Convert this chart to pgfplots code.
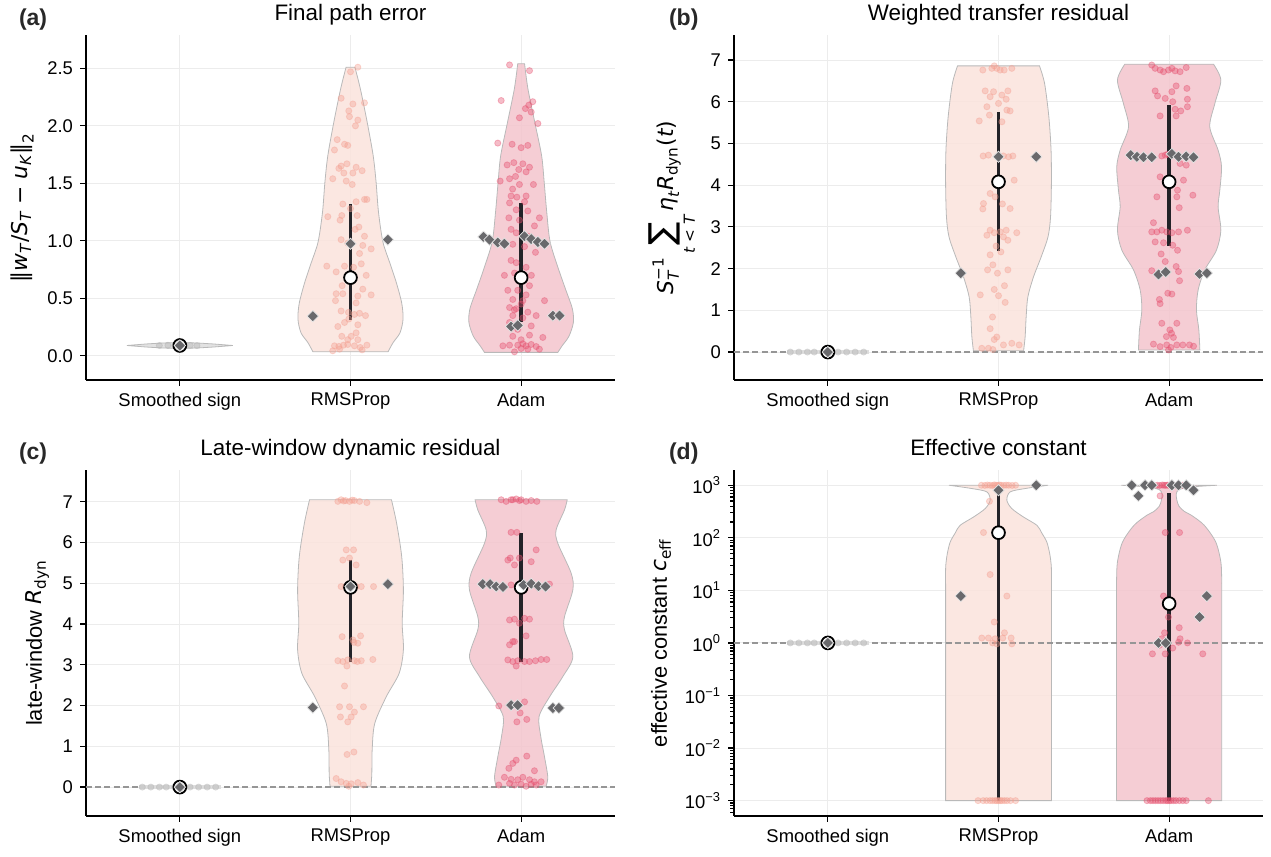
\documentclass[border=0pt]{standalone}
\usepackage{amsmath}
\usepackage{fontspec}
\setmainfont{Liberation Sans}
\newfontfamily\dv{DejaVu Sans}
\usepackage{pgfplots}
\pgfplotsset{compat=1.18}
\usepgfplotslibrary{fillbetween}
\usepackage{pgfplotstable}

\definecolor{rmsfill}{RGB}{250,227,221}
\definecolor{adamfill}{RGB}{244,197,206}
\definecolor{rmsdot}{RGB}{245,160,145}
\definecolor{adamdot}{RGB}{230,80,110}
\definecolor{vedge}{RGB}{185,185,185}
\definecolor{gridc}{RGB}{236,236,236}
\definecolor{dia}{RGB}{105,105,108}
\definecolor{iqr}{RGB}{35,35,40}
\definecolor{sgfill}{RGB}{222,222,222}
\definecolor{sgdot}{RGB}{175,175,175}
\definecolor{zc}{RGB}{150,150,150}

\newcommand\mi[1]{\text{\dv\itshape #1}}
\newcommand\mr[1]{\text{\dv #1}}

\pgfplotsset{
 every axis title/.style={at={(0.5,1)}, anchor=base, yshift=7.2bp, font=\fontsize{11.2bp}{13bp}\selectfont},
 panel/.style={
  scale only axis, width=264.5bp, height=172.5bp,
  axis lines=left, axis line style={-, line width=1bp, black},
  xmin=-0.55, xmax=2.55, xtick={0,1,2}, xticklabels={Smoothed sign,RMSProp,Adam},
  tick align=outside, major tick length=3bp, minor tick length=1.8bp,
  tick style={black, line width=0.6bp},
  grid=major, major grid style={gridc, line width=0.5bp},
  ticklabel style={font=\fontsize{9.2bp}{10bp}\selectfont},
  /pgf/number format/assume math mode=true,
  label style={font=\fontsize{10.9bp}{13bp}\selectfont},
  anchor=south west,
 },
 pts/.style={only marks, mark=*, mark size=1.55bp, mark options={draw=#1, fill=#1, opacity=0.38}},
 dias/.style={only marks, mark=square*, mark size=2bp, mark options={rotate=45, fill=dia, draw={rgb,255:red,230;green,230;blue,230}, line width=0.35bp}},
 med/.style={only marks, mark=*, mark size=3.2bp, mark options={fill=white, draw=black, line width=0.9bp}},
 iqrl/.style={iqr, line width=1.7bp},
 zline/.style={zc, dash pattern=on 3bp off 1.6bp, line width=0.7bp},
 vfill/.style={fill=#1, fill opacity=0.87, draw=vedge, line width=0.4bp},
}

% ---------- violin outlines (y, half width) ----------
\pgfplotstableread{
y h
0.035 0.22
0.116 0.25
0.20 0.29
0.32 0.308
0.46 0.30
0.64 0.268
0.81 0.23
0.99 0.19
1.25 0.164
1.51 0.15
1.74 0.133
2.03 0.098
2.32 0.058
2.51 0.026
}\vaR
\pgfplotstableread{
y h
0.03 0.215
0.087 0.24
0.17 0.28
0.29 0.306
0.41 0.30
0.58 0.26
0.75 0.22
0.99 0.17
1.25 0.15
1.51 0.135
1.74 0.12
2.03 0.08
2.32 0.04
2.54 0.02
}\vaA
\pgfplotstableread{
y h
0.03 0.147
0.36 0.156
0.84 0.162
1.32 0.172
1.80 0.205
2.28 0.25
2.76 0.29
3.24 0.305
4.04 0.31
4.84 0.308
5.64 0.295
6.44 0.27
6.86 0.24
}\vbR
\pgfplotstableread{
y h
0.05 0.18
0.53 0.174
1.01 0.16
1.49 0.17
1.97 0.209
2.44 0.277
2.92 0.303
3.48 0.287
3.88 0.297
4.44 0.307
4.84 0.287
5.40 0.238
5.96 0.268
6.52 0.303
6.90 0.26
}\vbA
\pgfplotstableread{
y h
0.02 0.12
0.34 0.125
0.91 0.127
1.56 0.142
2.22 0.21
2.79 0.285
3.37 0.31
4.02 0.303
4.84 0.31
5.66 0.30
6.48 0.27
7.05 0.24
}\vcR
\pgfplotstableread{
y h
0.02 0.146
0.25 0.156
0.74 0.137
1.24 0.115
1.73 0.105
2.21 0.166
2.71 0.244
3.20 0.303
3.86 0.254
4.18 0.254
4.84 0.303
5.25 0.293
5.98 0.215
6.31 0.205
6.80 0.254
7.05 0.27
}\vcA
\pgfplotstableread{
y h
0.001 0.31
0.01 0.31
0.1 0.31
1 0.31
10 0.31
25.1 0.31
34.7 0.307
50.1 0.30
83.2 0.283
126 0.252
173 0.225
249 0.146
360 0.078
518 0.049
746 0.068
865 0.156
1000 0.29
}\vdR
\pgfplotstableread{
y h
0.001 0.308
0.01 0.308
0.1 0.308
1 0.308
10 0.308
15.8 0.308
34.7 0.303
83.2 0.273
174 0.205
269 0.13
316 0.09
398 0.058
525 0.045
692 0.042
832 0.06
933 0.14
1000 0.28
}\vdA

\begin{document}
\begin{tikzpicture}

% ================= (a) =================
\begin{axis}[panel, at={(43bp,238.5bp)},
  ymin=-0.21, ymax=2.79, ytick={0,0.5,1,1.5,2,2.5},
  yticklabel style={/pgf/number format/.cd, fixed, fixed zerofill, precision=1},
  title={Final path error},
  ylabel={$\mr{‖}\mi{w}_{\mi{T}}\mr{/}\mi{S}_{\mi{T}}\mr{ − }\mi{u}_{\mi{K}}\mr{‖}_{\mr{2}}$}]
\addplot[vfill=sgfill] coordinates {(-0.31,0.09) (-0.2,0.077) (-0.1,0.068) (0,0.065) (0.1,0.068) (0.2,0.077) (0.31,0.09) (0.2,0.103) (0.1,0.112) (0,0.115) (-0.1,0.112) (-0.2,0.103)} -- cycle;
\addplot[pts=sgdot] coordinates {(-0.12,0.09) (-0.07,0.092) (-0.03,0.088) (0.02,0.09) (0.06,0.091) (0.1,0.089)};
\addplot[draw=none, smooth, name path=aR] table[x expr=1+\thisrow{h}, y=y] {\vaR};
\addplot[draw=none, smooth, name path=aL] table[x expr=1-\thisrow{h}, y=y] {\vaR};
\addplot[vfill=rmsfill] fill between[of=aR and aL, reverse=true];
\addplot[draw=none, smooth, name path=bR] table[x expr=2+\thisrow{h}, y=y] {\vaA};
\addplot[draw=none, smooth, name path=bL] table[x expr=2-\thisrow{h}, y=y] {\vaA};
\addplot[vfill=adamfill] fill between[of=bR and bL, reverse=true];
\addplot[pts=rmsdot] coordinates {
(1.043,2.51) (1.0,2.47) (0.945,2.24) (1.014,2.19) (1.082,2.20) (0.99,2.13) (0.994,2.08) (1.043,2.05) (1.029,2.00)
(0.922,1.88) (0.965,1.84) (0.984,1.83) (0.906,1.79) (0.945,1.65) (0.979,1.67) (0.932,1.63) (0.961,1.59) (1.014,1.59)
(1.033,1.64) (1.068,1.61) (0.896,1.54) (0.975,1.52) (1.01,1.49) (1.082,1.36) (1.096,1.36) (1.033,1.34) (0.955,1.32)
(1.0,1.28) (1.039,1.22) (0.867,1.21) (0.949,1.22) (0.939,1.18) (1.049,1.12) (1.027,1.10) (1.082,1.04) (0.945,1.01)
(0.984,0.98) (1.072,0.96) (1.121,0.93) (1.053,0.89) (0.861,0.78) (0.965,0.78) (1.018,0.77) (1.063,0.80) (0.916,0.73)
(1.092,0.70) (0.951,0.61) (1.072,0.58) (0.916,0.54) (0.955,0.54) (1.043,0.52) (1.121,0.53) (0.912,0.48) (1.033,0.46)
(0.945,0.39) (0.988,0.378) (1.023,0.36) (1.053,0.37) (1.088,0.35) (0.99,0.32) (0.926,0.255) (0.965,0.29) (1.043,0.27)
(0.949,0.17) (1.004,0.17) (1.033,0.20) (0.984,0.14) (1.043,0.14) (0.906,0.087) (0.932,0.082) (0.959,0.093) (0.984,0.099)
(1.023,0.087) (1.057,0.073) (1.096,0.093) (0.896,0.044) (1.068,0.052) (0.936,0.058)};
\addplot[pts=adamdot] coordinates {
(1.932,2.53) (2.049,2.48) (1.883,2.22) (2.068,2.21) (2.045,2.18) (2.025,2.15) (2.059,2.12) (1.99,2.07) (2.098,2.02)
(1.863,1.85) (1.947,1.84) (2.0,1.81) (2.039,1.83) (1.918,1.66) (1.957,1.68) (2.01,1.67) (2.049,1.64) (1.986,1.62)
(2.029,1.60) (1.967,1.56) (1.877,1.52) (1.932,1.54) (1.99,1.49) (2.072,1.49) (1.941,1.39) (1.975,1.38) (2.029,1.39)
(1.932,1.33) (2.02,1.34) (1.971,1.27) (2.039,1.26) (2.107,1.20) (1.928,1.20) (1.99,1.18) (2.078,1.13) (1.941,1.10)
(1.971,1.07) (2.039,1.04) (1.951,0.97) (2.02,0.95) (2.084,0.90) (1.941,0.83) (1.971,0.81) (2.029,0.77) (1.902,0.70)
(1.961,0.72) (2.049,0.61) (1.922,0.57) (1.98,0.57) (2.029,0.53) (1.951,0.49) (2.01,0.48) (2.137,0.48) (1.932,0.42)
(1.971,0.41) (2.039,0.38) (2.088,0.35) (1.951,0.35) (2.01,0.33) (1.932,0.29) (2.059,0.26) (1.98,0.23) (2.049,0.18)
(1.951,0.17) (2.127,0.16) (2.0,0.14) (1.893,0.087) (1.932,0.093) (1.98,0.093) (2.01,0.105) (2.029,0.087) (2.059,0.099)
(2.088,0.081) (2.0,0.064) (1.961,0.035) (2.107,0.058) (2.039,0.058) (1.96,0.40) (2.0,0.45) (2.06,0.70) (1.95,1.45)};
\addplot[iqrl] coordinates {(1,1.32) (1,0.315)};
\addplot[iqrl] coordinates {(2,1.33) (2,0.29)};
\addplot[med] coordinates {(0,0.09) (1,0.68) (2,0.68)};
\addplot[dias] coordinates {(0,0.09) (1.0,0.975) (1.219,1.01) (0.779,0.345)
 (1.779,1.035) (1.814,1.01) (1.863,0.985) (1.902,0.975) (2.02,1.04) (2.059,1.015) (2.098,0.99) (2.137,0.975)
 (1.941,0.255) (1.98,0.265) (2.186,0.35) (2.225,0.35)};
\end{axis}

% ================= (b) =================
\begin{axis}[panel, at={(367bp,238.5bp)},
  ymin=-0.67, ymax=7.6, ytick={0,1,2,3,4,5,6,7},
  title={Weighted transfer residual},
  ylabel={$\mi{S}_{\mi{T}}^{\mr{−1}}\mathop{\text{\dv\LARGE ∑}}\limits_{\mi{t}\mr{ < }\mi{T}}\mi{η}_{\mi{t}}\mi{R}_{\mr{dyn}}\mr{(}\mi{t}\mr{)}$}]
\addplot[zline] coordinates {(-0.55,0) (2.55,0)};
\addplot[fill=sgfill, draw=none] coordinates {(-0.24,-0.05) (0.24,-0.05) (0.24,0.05) (-0.24,0.05)} -- cycle;
\addplot[pts=sgdot] coordinates {(-0.22,0) (-0.17,0) (-0.12,0) (-0.08,0) (-0.03,0) (0.02,0) (0.06,0) (0.11,0) (0.16,0) (0.21,0)};
\addplot[draw=none, smooth, name path=cR] table[x expr=1+\thisrow{h}, y=y] {\vbR};
\addplot[draw=none, smooth, name path=cL] table[x expr=1-\thisrow{h}, y=y] {\vbR};
\addplot[vfill=rmsfill] fill between[of=cR and cL, reverse=true];
\addplot[draw=none, smooth, name path=dR] table[x expr=2+\thisrow{h}, y=y] {\vbA};
\addplot[draw=none, smooth, name path=dL] table[x expr=2-\thisrow{h}, y=y] {\vbA};
\addplot[vfill=adamfill] fill between[of=dR and dL, reverse=true];
\addplot[pts=rmsdot] coordinates {
(0.908,6.76) (0.961,6.8) (0.975,6.86) (0.99,6.8) (1.01,6.76) (1.033,6.76) (1.078,6.8) (0.922,6.26) (0.971,6.24)
(1.055,6.26) (0.951,6.12) (1.02,6.16) (1.045,6.06) (1.0,5.96) (0.932,5.88) (1.049,5.80) (1.068,5.78) (0.947,5.68)
(0.887,5.54) (1.02,5.52) (0.91,4.70) (0.941,4.72) (1.029,4.70) (1.059,4.68) (1.084,4.70) (1.092,4.12) (0.951,3.80)
(0.98,3.72) (0.912,3.56) (1.023,3.55) (0.908,3.43) (1.068,3.44) (0.951,2.92) (0.975,2.86) (1.01,2.88) (1.045,2.92)
(1.107,2.86) (0.932,2.80) (1.029,2.76) (1.055,2.68) (0.986,2.54) (1.014,2.40) (0.951,2.33) (0.967,2.09) (0.936,1.97)
(0.994,1.89) (1.055,1.97) (1.035,1.59) (0.975,1.50) (0.893,1.37) (1.0,1.35) (1.039,1.19) (0.965,0.84) (0.951,0.56)
(0.99,0.36) (0.975,0.30) (1.029,0.17) (1.121,0.17) (0.902,0.09) (0.941,0.09) (0.967,0.06) (1.078,0.21)};
\addplot[pts=adamdot] coordinates {
(1.898,6.88) (1.918,6.80) (1.947,6.76) (1.967,6.72) (1.996,6.76) (2.016,6.80) (2.035,6.74) (2.064,6.72) (2.1,6.82)
(1.918,6.26) (1.932,6.14) (2.016,6.24) (2.041,6.38) (2.104,6.32) (1.977,6.08) (2.021,6.00) (2.107,6.06) (2.068,5.78)
(2.107,5.88) (1.947,5.66) (2.041,5.66) (2.035,5.82) (1.957,4.70) (1.977,4.72) (1.99,4.74) (2.064,4.52) (2.1,4.48) (1.947,4.20)
(2.084,4.12) (1.928,3.72) (2.049,3.88) (2.045,3.72) (2.139,3.76) (2.059,3.46) (1.908,3.10) (1.898,2.88) (1.928,2.88)
(1.957,2.92) (1.986,2.88) (2.016,2.86) (2.055,2.88) (2.107,2.92) (1.918,2.64) (1.967,2.62) (2.021,2.56) (2.049,2.44)
(1.953,2.35) (1.977,2.17) (2.041,2.05) (2.055,1.93) (1.898,1.95) (2.061,1.71) (1.992,1.41) (2.016,1.39) (1.943,1.26)
(1.947,1.16) (1.957,0.69) (2.045,0.69) (2.004,0.53) (2.014,0.45) (1.984,0.37) (2.025,0.35) (1.908,0.19) (1.947,0.13)
(1.986,0.17) (2.01,0.11) (2.045,0.17) (2.08,0.17) (2.119,0.17) (2.143,0.14) (1.996,0.05)};
\addplot[iqrl] coordinates {(1,5.76) (1,2.42)};
\addplot[iqrl] coordinates {(2,5.92) (2,2.53)};
\addplot[med] coordinates {(0,0) (1,4.08) (2,4.08)};
\addplot[dias] coordinates {(0,0) (1.0,4.68) (1.221,4.68) (0.779,1.89)
 (1.775,4.72) (1.811,4.68) (1.85,4.67) (1.898,4.67) (2.016,4.75) (2.055,4.68) (2.1,4.69) (2.143,4.67)
 (1.938,1.86) (1.98,1.92) (2.178,1.87) (2.221,1.89)};
\end{axis}

% ================= (c) =================
\begin{axis}[panel, at={(43bp,20.5bp)}, height=173bp,
  ymin=-0.71, ymax=7.78, ytick={0,1,2,3,4,5,6,7},
  title={Late-window dynamic residual},
  ylabel={late-window $\mi{R}_{\mr{dyn}}$}]
\addplot[zline] coordinates {(-0.55,0) (2.55,0)};
\addplot[fill=sgfill, draw=none] coordinates {(-0.24,-0.05) (0.24,-0.05) (0.24,0.05) (-0.24,0.05)} -- cycle;
\addplot[pts=sgdot] coordinates {(-0.22,0) (-0.17,0) (-0.12,0) (-0.08,0) (-0.03,0) (0.02,0) (0.06,0) (0.11,0) (0.16,0) (0.21,0)};
\addplot[draw=none, smooth, name path=eR] table[x expr=1+\thisrow{h}, y=y] {\vcR};
\addplot[draw=none, smooth, name path=eL] table[x expr=1-\thisrow{h}, y=y] {\vcR};
\addplot[vfill=rmsfill] fill between[of=eR and eL, reverse=true];
\addplot[draw=none, smooth, name path=fR] table[x expr=2+\thisrow{h}, y=y] {\vcA};
\addplot[draw=none, smooth, name path=fL] table[x expr=2-\thisrow{h}, y=y] {\vcA};
\addplot[vfill=adamfill] fill between[of=fR and fL, reverse=true];
\addplot[pts=rmsdot] coordinates {
(0.926,7.01) (0.945,7.05) (0.96,7.02) (0.971,7.03) (0.994,7.01) (1.01,7.04) (1.023,7.03) (1.053,7.01) (1.096,6.98)
(0.975,5.82) (1.018,5.82) (0.955,5.57) (0.994,5.62) (1.033,5.45) (0.945,4.92) (0.971,4.92) (1.033,4.92) (1.063,4.92)
(1.135,4.92) (0.951,3.69) (1.059,3.71) (1.014,3.61) (1.043,3.53) (1.02,3.55) (0.926,3.10) (0.955,3.08) (0.984,3.12)
(1.023,3.10) (1.063,3.10) (1.131,3.13) (0.979,2.97) (1.04,3.08) (0.965,2.48) (0.936,1.97) (0.994,1.97) (1.023,1.84) (1.076,1.97)
(0.941,1.72) (1.004,1.72) (0.984,1.60) (0.98,0.8) (1.02,0.86) (0.916,0.21) (0.945,0.13) (0.975,0.09) (1.004,0.08)
(1.043,0.11) (1.076,0.05) (0.99,0.02)};
\addplot[pts=adamdot] coordinates {
(1.883,7.05) (1.912,7.01) (1.941,7.05) (1.951,7.05) (1.971,7.07) (2.0,7.05) (2.029,7.01) (2.059,7.03) (2.092,7.01) (1.99,7.03)
(1.941,6.25) (1.975,6.25) (2.088,5.82) (1.922,5.57) (1.936,5.62) (1.99,5.62) (2.059,5.53) (1.961,5.45) (1.941,4.96)
(2.029,4.96) (2.166,4.98) (1.932,4.10) (1.961,4.12) (2.02,4.14) (2.049,4.12) (1.99,4.02) (2.029,3.71) (1.951,3.57)
(1.932,3.49) (1.961,3.57) (1.922,3.12) (1.951,3.08) (1.98,3.10) (2.02,3.08) (2.049,3.08) (2.084,3.10) (2.117,3.13)
(2.15,3.13) (1.971,2.97) (1.869,1.99) (2.02,2.09) (1.994,1.82) (2.033,1.66) (1.975,1.60) (2.033,0.76) (1.971,0.66)
(1.951,0.58) (1.928,0.46) (2.078,0.40) (1.902,0.24) (1.941,0.19) (1.98,0.18) (2.01,0.24) (2.049,0.18) (2.078,0.13)
(2.117,0.13) (1.869,0.05) (1.932,0.09) (1.961,0.05) (2.0,0.07) (2.029,0.02) (2.059,0.07) (2.088,0.05)};
\addplot[iqrl] coordinates {(1,5.57) (1,3.08)};
\addplot[iqrl] coordinates {(2,6.23) (2,3.08)};
\addplot[med] coordinates {(0,0) (1,4.9) (2,4.9)};
\addplot[dias] coordinates {(0,0) (1.0,4.92) (1.219,4.98) (0.779,1.95)
 (1.775,4.98) (1.818,4.98) (1.854,4.92) (1.893,4.91) (2.014,4.96) (2.059,4.99) (2.102,4.93) (2.143,4.92)
 (1.941,2.01) (1.98,2.01) (2.186,1.94) (2.221,1.94)};
\end{axis}

% ================= (d) =================
\begin{axis}[panel, at={(367bp,20.5bp)}, height=173bp,
  ymode=log, ymin=5.1e-4, ymax=1950,
  ytick={1e-3,1e-2,1e-1,1,10,100,1000},
  minor ytick={6e-4,7e-4,8e-4,9e-4,2e-3,3e-3,4e-3,5e-3,6e-3,7e-3,8e-3,9e-3,
   2e-2,3e-2,4e-2,5e-2,6e-2,7e-2,8e-2,9e-2,0.2,0.3,0.4,0.5,0.6,0.7,0.8,0.9,
   2,3,4,5,6,7,8,9,20,30,40,50,60,70,80,90,200,300,400,500,600,700,800,900},
  yticklabels={10\textsuperscript{−3},10\textsuperscript{−2},10\textsuperscript{−1},10\textsuperscript{0},10\textsuperscript{1},10\textsuperscript{2},10\textsuperscript{3}},
  title={Effective constant},
  ylabel={effective constant $\mi{c}_{\mr{eff}}$}]
\addplot[zline] coordinates {(-0.55,1) (2.55,1)};
\addplot[fill=sgfill, draw=none] coordinates {(-0.24,0.91) (0.24,0.91) (0.24,1.1) (-0.24,1.1)} -- cycle;
\addplot[pts=sgdot] coordinates {(-0.22,1) (-0.17,1) (-0.12,1) (-0.08,1) (-0.03,1) (0.02,1) (0.06,1) (0.11,1) (0.16,1) (0.21,1)};
\addplot[draw=none, smooth, name path=gR] table[x expr=1+\thisrow{h}, y=y] {\vdR};
\addplot[draw=none, smooth, name path=gL] table[x expr=1-\thisrow{h}, y=y] {\vdR};
\addplot[vfill=rmsfill] fill between[of=gR and gL, reverse=true];
\addplot[draw=none, smooth, name path=hR] table[x expr=2+\thisrow{h}, y=y] {\vdA};
\addplot[draw=none, smooth, name path=hL] table[x expr=2-\thisrow{h}, y=y] {\vdA};
\addplot[vfill=adamfill] fill between[of=hR and hL, reverse=true];
\addplot[pts=rmsdot] coordinates {
(0.90,1000) (0.92,990) (0.935,1010) (0.95,1000) (0.965,985) (0.975,1015) (0.985,1000) (0.995,990) (1.005,1010)
(1.015,1000) (1.03,995) (1.045,1005) (1.06,1000) (1.08,990) (1.1,1000)
(0.947,495) (0.912,126) (0.951,20) (1.049,7.8) (0.975,2.5) (1.035,1.56) (0.902,1.24) (0.941,1.24) (0.98,1.2)
(1.025,1.24) (1.074,1.24) (0.965,1.0) (0.99,0.96) (1.078,0.96)
(0.88,0.001) (0.91,0.001) (0.93,0.001) (0.95,0.001) (0.965,0.001) (0.98,0.001) (0.99,0.001) (1.0,0.001)
(1.01,0.001) (1.02,0.001) (1.035,0.001) (1.05,0.001) (1.07,0.001) (1.1,0.001)};
\addplot[pts=adamdot] coordinates {
(1.93,1000) (1.945,990) (1.96,1010) (1.97,1000) (1.98,995) (1.99,1005) (2.0,1000) (2.005,990) (2.01,1010)
(2.02,1000) (2.03,995) (2.045,1005) (2.06,1000) (2.08,1000)
(1.947,627) (1.977,126) (2.061,126) (1.967,7.8) (1.996,3.1) (2.059,1.95) (1.973,1.56) (1.957,1.2) (2.064,1.2)
(2.107,1.0) (1.943,0.9) (2.021,0.8) (1.902,0.62) (1.977,0.62) (2.197,0.62) (2.055,1.03)
(1.87,0.001) (1.89,0.001) (1.905,0.001) (1.92,0.001) (1.935,0.001) (1.95,0.001) (1.965,0.001) (1.98,0.001)
(1.99,0.001) (2.0,0.001) (2.01,0.001) (2.025,0.001) (2.04,0.001) (2.06,0.001) (2.08,0.001) (2.1,0.001) (2.23,0.001)};
\addplot[iqrl] coordinates {(1,930) (1,0.001)};
\addplot[iqrl] coordinates {(2,700) (2,0.001)};
\addplot[med] coordinates {(0,1) (1,125) (2,5.6)};
\addplot[dias] coordinates {(0,1) (1.0,803) (1.221,1000) (0.779,7.8)
 (1.781,1000) (1.82,627) (1.859,1000) (1.898,1000) (2.016,1000) (2.055,1000) (2.1,1000) (2.143,803)
 (2.221,7.8) (2.178,3.1) (1.938,1.0) (1.98,1.0)};
\end{axis}

\node[anchor=base west, font=\bfseries\fontsize{11.5bp}{13bp}\selectfont, text={rgb,255:red,40;green,40;blue,40}] at (6bp,415.5bp) {(a)};
\node[anchor=base west, font=\bfseries\fontsize{11.5bp}{13bp}\selectfont, text={rgb,255:red,40;green,40;blue,40}] at (331bp,415.5bp) {(b)};
\node[anchor=base west, font=\bfseries\fontsize{11.5bp}{13bp}\selectfont, text={rgb,255:red,40;green,40;blue,40}] at (6bp,198.5bp) {(c)};
\node[anchor=base west, font=\bfseries\fontsize{11.5bp}{13bp}\selectfont, text={rgb,255:red,40;green,40;blue,40}] at (331bp,198.5bp) {(d)};
\pgfresetboundingbox
\path[use as bounding box] (0,0) rectangle (635.5bp,428.5bp);
\end{tikzpicture}
\end{document}
